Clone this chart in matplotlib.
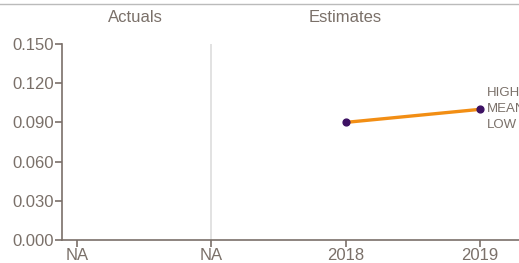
import matplotlib.pyplot as plt
import numpy as np

# category labels on the x axis and the estimate series
tick_labels = ['NA', 'NA', '2018', '2019']
est_years = ['2018', '2019']
est_values = [0.09, 0.10]
y_ticks = [0.0, 0.03, 0.06, 0.09, 0.12, 0.15]
legend_labels = ['HIGH', 'MEAN', 'LOW']

grey = '#7a7069'
plt.rcParams['font.family'] = ['Liberation Sans', 'DejaVu Sans']

fig = plt.figure(figsize=(5.19, 2.63), dpi=100)
ax = fig.add_axes([62 / 519, 23 / 263, 457 / 519, 196 / 263])

x = np.arange(len(tick_labels))
est_x = [tick_labels.index(y) for y in est_years]
ax.plot(est_x, est_values, color='#f28e14', lw=2.4, zorder=2)
ax.scatter(est_x, est_values, color='#3d1163', s=24, zorder=3)

# divider between actuals and estimates
ax.axvline(1, color='#dddddd', lw=1.2, zorder=1)

ax.set_xlim(-0.11, 3.29)
ax.set_ylim(0, 0.15)
ax.set_xticks(x)
ax.set_xticklabels(tick_labels)
ax.set_yticks(y_ticks)
ax.set_yticklabels(['{:.3f}'.format(v) for v in y_ticks])
ax.tick_params(colors=grey, labelsize=12, length=5, width=1.2, pad=1)
for s in ['top', 'right']:
    ax.spines[s].set_visible(False)
for s in ['left', 'bottom']:
    ax.spines[s].set_color(grey)
    ax.spines[s].set_linewidth(1.2)

# legend text, aligned on the last point and cut off at the figure edge
for i, lab in enumerate(legend_labels):
    ax.text(3.05, est_values[-1] + 0.0122 - i * 0.0122, lab, color=grey,
            fontsize=9.5, va='center', ha='left', clip_on=False)

fig.text(135 / 519, 1 - 18 / 263, 'Actuals', color=grey, fontsize=12,
         ha='center', va='center')
fig.text(345 / 519, 1 - 18 / 263, 'Estimates', color=grey, fontsize=12,
         ha='center', va='center')
fig.add_artist(plt.Line2D([0, 1], [1 - 4 / 263, 1 - 4 / 263],
                          color='#bbbbbb', lw=1))

fig.savefig('out.png', dpi=100)
